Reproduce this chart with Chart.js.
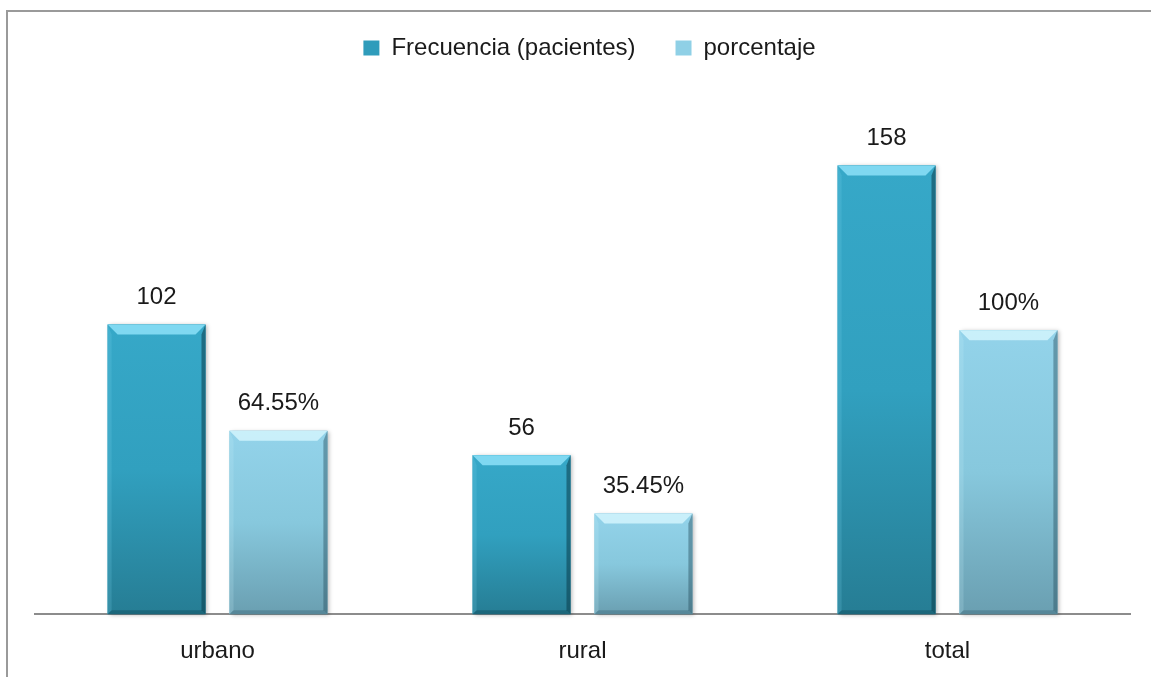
<!DOCTYPE html>
<html>
<head>
<meta charset="utf-8">
<script src="https://cdn.jsdelivr.net/npm/chart.js@4/dist/chart.umd.min.js"></script>
<style>
  html, body { margin: 0; padding: 0; background: #fff; }
  #wrap { position: relative; width: 1151px; height: 677px; }
</style>
</head>
<body>
<div id="wrap"><canvas id="c" width="1151" height="677"></canvas></div>
<script>
// ---- data ----
const categories = ['urbano', 'rural', 'total'];
const seriesNames = ['Frecuencia (pacientes)', 'porcentaje'];
const frecuencia = [102, 56, 158];
const porcentaje = [64.55, 35.45, 100];
const porcentajeLabels = ['64.55%', '35.45%', '100%'];

// ---- styles ----
const FONT = '"Liberation Sans", Arial, sans-serif';
const styles = [
  { base: '#31a0bf', top: '#36a8c8', bottom: '#267d94', bevelTop: 'rgba(140,225,248,0.85)', bevelRight: 'rgba(10,60,75,0.55)', bevelLeft: 'rgba(120,210,235,0.2)', bevelBottom: 'rgba(10,60,75,0.35)', legend: '#2f9cbb' },
  { base: '#87c8dd', top: '#93d3ea', bottom: '#6a9fb1', bevelTop: 'rgba(210,244,253,0.85)', bevelRight: 'rgba(40,80,95,0.45)', bevelLeft: 'rgba(200,240,250,0.2)', bevelBottom: 'rgba(40,80,95,0.3)', legend: '#8fd0e6' }
];

const framePlugin = {
  id: 'frame',
  beforeDraw(chart) {
    const ctx = chart.ctx;
    ctx.save();
    ctx.strokeStyle = '#9a9a9a';
    ctx.lineWidth = 2;
    ctx.beginPath();
    ctx.moveTo(7, chart.height);
    ctx.lineTo(7, 11);
    ctx.lineTo(chart.width, 11);
    ctx.stroke();
    ctx.restore();
  }
};

const legendShift = {
  id: 'legendShift',
  afterLayout(chart) {
    if (chart.legend) { chart.legend.left += 7; chart.legend.right += 7; }
  }
};

const barStyle = {
  id: 'barStyle',
  afterDatasetsDraw(chart) {
    const ctx = chart.ctx;
    chart.data.datasets.forEach((ds, di) => {
      const meta = chart.getDatasetMeta(di);
      if (meta.hidden) return;
      const st = styles[di];
      meta.data.forEach((bar, i) => {
        const p = bar.getProps(['x', 'y', 'base', 'width'], true);
        const l = p.x - p.width / 2, r = p.x + p.width / 2, t = p.y, b = p.base;
        const bv = 10;
        ctx.save();
        ctx.shadowColor = 'rgba(0,0,0,0.28)';
        ctx.shadowBlur = 4;
        ctx.shadowOffsetX = 2;
        ctx.shadowOffsetY = 1;
        const g = ctx.createLinearGradient(0, t, 0, b);
        g.addColorStop(0, st.top);
        g.addColorStop(0.5, st.base);
        g.addColorStop(1, st.bottom);
        ctx.fillStyle = g;
        ctx.fillRect(l, t, r - l, b - t);
        ctx.shadowColor = 'transparent';
        const poly = (pts, fill) => {
          ctx.beginPath();
          ctx.moveTo(pts[0][0], pts[0][1]);
          for (let k = 1; k < pts.length; k++) ctx.lineTo(pts[k][0], pts[k][1]);
          ctx.closePath();
          ctx.fillStyle = fill;
          ctx.fill();
        };
        poly([[l, t], [r, t], [r - bv, t + bv], [l + bv, t + bv]], st.bevelTop);
        poly([[r, t], [r, b], [r - 4, b - 4], [r - 4, t + bv]], st.bevelRight);
        poly([[l, t], [l + 4, t + bv], [l + 4, b - 4], [l, b]], st.bevelLeft);
        poly([[l, b], [l + 4, b - 4], [r - 4, b - 4], [r, b]], st.bevelBottom);
        ctx.fillStyle = '#1a1a1a';
        ctx.font = '24px ' + FONT;
        ctx.textAlign = 'center';
        ctx.textBaseline = 'middle';
        const txt = di === 0 ? String(frecuencia[i]) : porcentajeLabels[i];
        ctx.fillText(txt, p.x, t - 27);
        ctx.restore();
      });
    });
  }
};

new Chart(document.getElementById('c'), {
  type: 'bar',
  data: {
    labels: categories,
    datasets: [
      { label: seriesNames[0], data: frecuencia, backgroundColor: styles[0].base, borderWidth: 0, categoryPercentage: 0.668, barPercentage: 0.803 },
      { label: seriesNames[1], data: porcentaje, backgroundColor: styles[1].base, borderWidth: 0, categoryPercentage: 0.668, barPercentage: 0.803 }
    ]
  },
  options: {
    responsive: false,
    animation: false,
    devicePixelRatio: 1,
    layout: { padding: { left: 35, right: 21, top: -4, bottom: -12 } },
    plugins: {
      tooltip: { enabled: false },
      legend: {
        position: 'top',
        labels: {
          color: '#1a1a1a',
          font: { family: FONT, size: 24 },
          boxWidth: 16,
          boxHeight: 15,
          padding: 40,
          generateLabels(chart) {
            return chart.data.datasets.map((ds, i) => ({
              text: ds.label,
              fillStyle: styles[i].legend,
              strokeStyle: styles[i].legend,
              lineWidth: 0,
              hidden: false,
              datasetIndex: i,
              fontColor: '#1a1a1a'
            }));
          }
        }
      }
    },
    scales: {
      x: {
        grid: { display: false, drawTicks: false },
        border: { display: true, color: '#8c8c8c', width: 2 },
        ticks: { color: '#1a1a1a', font: { family: FONT, size: 24 }, padding: 23 }
      },
      y: {
        display: false,
        min: 0,
        max: 191.6,
        grid: { display: false }
      }
    }
  },
  plugins: [framePlugin, legendShift, barStyle]
});
</script>
</body>
</html>
